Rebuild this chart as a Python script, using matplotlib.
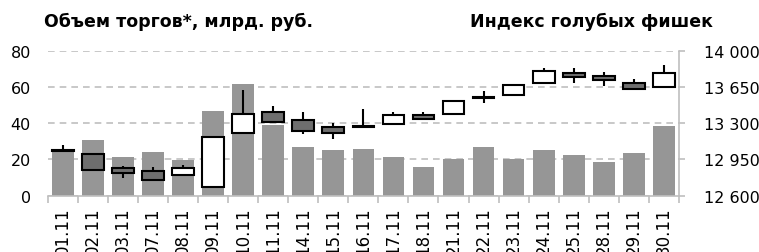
import matplotlib
matplotlib.use("Agg")
import matplotlib.pyplot as plt
import numpy as np

# trading days (November)
dates = ["01.11", "02.11", "03.11", "07.11", "08.11", "09.11", "10.11", "11.11",
         "14.11", "15.11", "16.11", "17.11", "18.11", "21.11", "22.11", "23.11",
         "24.11", "25.11", "28.11", "29.11", "30.11"]

# trading volume, bn rub (left axis)
volume = [25, 31, 21.5, 24.3, 19.8, 46.8, 62, 39, 27, 25, 26,
          21.4, 15.8, 20.4, 27, 20.4, 25.2, 22.5, 18.8, 23.4, 38.3]

# blue chip index candles (right axis)
opens = [13030, 12998, 12865, 12836, 12797, 12683, 13204, 13411, 13330, 13263, 13262,
         13289, 13376, 13389, 13542, 13573, 13686, 13789, 13757, 13689, 13650]
highs = [13091, 12998, 12881, 12877, 12894, 13172, 13622, 13469, 13405, 13304, 13437,
         13405, 13405, 13512, 13615, 13673, 13832, 13832, 13799, 13731, 13867]
lows = [13030, 12833, 12765, 12748, 12797, 12673, 13192, 13308, 13195, 13149, 13262,
        13279, 13340, 13389, 13495, 13560, 13686, 13689, 13660, 13634, 13641]
closes = [13040, 12845, 12816, 12748, 12865, 13163, 13389, 13308, 13227, 13207, 13270,
          13376, 13340, 13512, 13552, 13673, 13805, 13750, 13718, 13634, 13785]

left_ticks = [0, 20, 40, 60, 80]
right_ticks = [12600, 12950, 13300, 13650, 14000]

BAR = "#969696"
DARK = "#6e6e6e"
AXIS = "#bfbfbf"

fig = plt.figure(figsize=(7.59, 2.53), dpi=100)
ax = fig.add_axes([0.0628, 0.2233, 0.8318, 0.5712])
x = np.arange(len(dates))
w = 0.72

# volume bars
ax.bar(x, volume, width=w, color=BAR, zorder=2)
ax.set_ylim(0, 80)
ax.set_xlim(-0.5, len(dates) - 0.5)
ax.set_yticks(left_ticks)
ax.yaxis.grid(True, color=AXIS, linestyle=(0, (4, 3)), linewidth=1.2, zorder=0)
ax.set_axisbelow(True)
for s in ["left", "top", "right"]:
    ax.spines[s].set_visible(False)
ax.spines["bottom"].set_color(AXIS)
ax.spines["bottom"].set_linewidth(1.2)
ax.tick_params(axis="y", length=0, pad=12, labelsize=11.5)

# category boundary ticks + centred rotated labels
ax.set_xticks(np.arange(len(dates) + 1) - 0.5)
ax.set_xticklabels([])
ax.tick_params(axis="x", which="major", length=5, color=AXIS, width=1.2)
ax.set_xticks(x, minor=True)
ax.set_xticklabels(dates, minor=True, rotation=90, fontsize=12)
ax.tick_params(axis="x", which="minor", length=0, pad=8)

# candlesticks on right axis
ax2 = ax.twinx()
ax2.set_ylim(12600, 14000)
ax2.vlines(x, lows, highs, color="black", linewidth=1.5, zorder=3)
for i in range(len(dates)):
    o, c = opens[i], closes[i]
    face = "white" if c >= o else DARK
    ax2.bar(x[i], abs(c - o), bottom=min(o, c), width=w, color=face,
            edgecolor="black", linewidth=1.5, zorder=4)
ax2.set_yticks(right_ticks)
ax2.set_yticklabels(["{:,}".format(t).replace(",", " ") for t in right_ticks])
ax2.tick_params(axis="y", length=4, color=AXIS, width=1.2, pad=14, labelsize=11.5)
for s in ["left", "top", "bottom"]:
    ax2.spines[s].set_visible(False)
ax2.spines["right"].set_color(AXIS)
ax2.spines["right"].set_linewidth(1.2)

fig.text(0.058, 0.913, "Объем торгов*, млрд. руб.", fontsize=12.5, fontweight="bold",
         ha="left", va="center")
fig.text(0.939, 0.913, "Индекс голубых фишек", fontsize=12.5, fontweight="bold",
         ha="right", va="center")

fig.savefig("out.png", dpi=100)
